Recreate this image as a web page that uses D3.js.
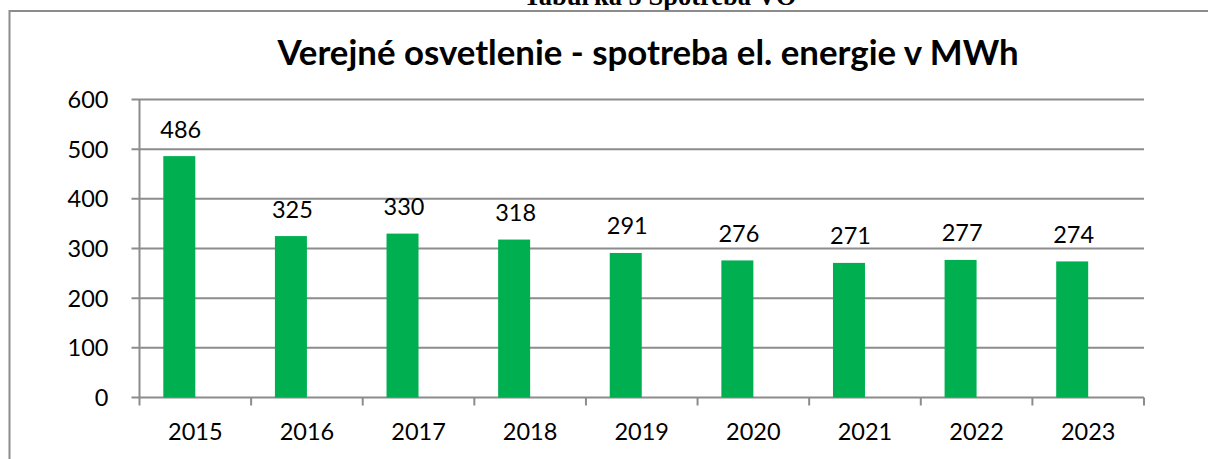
<!DOCTYPE html>
<html>
<head>
<meta charset="utf-8">
<script src="https://cdn.jsdelivr.net/npm/d3@7"></script>
<style>
  html, body { margin: 0; padding: 0; background: #fff; overflow: hidden; }
  svg { display: block; }
</style>
</head>
<body>
<div id="chart"></div>
<script>
// Data
const years = ["2015", "2016", "2017", "2018", "2019", "2020", "2021", "2022", "2023"];
const consumption = [486, 325, 330, 318, 291, 276, 271, 277, 274];
const yTicks = [0, 100, 200, 300, 400, 500, 600];

const caption = "Tabuľka 5 Spotreba VO";
const title = "Verejné osvetlenie - spotreba el. energie v MWh";

const W = 1208, H = 459;
const margin = { top: 99.5, right: 64, bottom: 61.5, left: 139.5 },
  width = W - margin.left - margin.right,
  height = H - margin.top - margin.bottom;

const gridColor = "#8c8c8c";
const barColor = "#00b050";
const font = "Lato, 'Open Sans', sans-serif";
const labelSize = 23.5;

const svg = d3.select("#chart")
  .append("svg")
  .attr("width", W)
  .attr("height", H);

// Caption above the chart frame (cut off at the top, as in the source)
svg.append("text")
  .attr("x", 660)
  .attr("y", 5)
  .attr("text-anchor", "middle")
  .attr("font-family", "'Liberation Serif', 'Times New Roman', serif")
  .attr("font-weight", "bold")
  .attr("font-size", 26.5)
  .text(caption);

// Chart frame
svg.append("rect")
  .attr("x", 9.5)
  .attr("y", 11)
  .attr("width", W)
  .attr("height", H)
  .attr("fill", "none")
  .attr("stroke", gridColor)
  .attr("stroke-width", 2);

// Title
svg.append("text")
  .attr("x", 648)
  .attr("y", 65)
  .attr("text-anchor", "middle")
  .attr("font-family", font)
  .attr("font-weight", "bold")
  .attr("font-size", 34.8)
  .text(title);

const g = svg.append("g")
  .attr("transform", `translate(${margin.left},${margin.top})`);

// Scales
const x = d3.scaleBand()
  .domain(years)
  .range([0, width]);

const y = d3.scaleLinear()
  .domain([0, 600])
  .range([height, 0]);

// Excel cluster: bar takes the left half of a 64px group centred in the category
const groupWidth = 64;
const barWidth = groupWidth / 2;

// Horizontal gridlines
g.selectAll(".grid")
  .data(yTicks)
  .enter()
  .append("line")
  .attr("x1", -8)
  .attr("x2", width)
  .attr("y1", d => y(d))
  .attr("y2", d => y(d))
  .attr("stroke", gridColor)
  .attr("stroke-width", 2);

// Y axis line
g.append("line")
  .attr("x1", 0).attr("x2", 0)
  .attr("y1", 0).attr("y2", height)
  .attr("stroke", gridColor)
  .attr("stroke-width", 2);

// Y tick labels
g.selectAll(".ylab")
  .data(yTicks)
  .enter()
  .append("text")
  .attr("x", -31)
  .attr("y", d => y(d))
  .attr("dy", "0.36em")
  .attr("text-anchor", "end")
  .attr("font-family", font)
  .attr("font-size", labelSize)
  .text(d => d);

// X tick marks between categories
const xTickPos = years.map(d => x(d)).concat([width]);
g.selectAll(".xtick")
  .data(xTickPos)
  .enter()
  .append("line")
  .attr("x1", d => d)
  .attr("x2", d => d)
  .attr("y1", height)
  .attr("y2", height + 8)
  .attr("stroke", gridColor)
  .attr("stroke-width", 2);

// Bars
g.selectAll(".bar")
  .data(consumption)
  .enter()
  .append("rect")
  .attr("class", "bar")
  .attr("x", (d, i) => x(years[i]) + (x.bandwidth() - groupWidth) / 2)
  .attr("y", d => y(d))
  .attr("width", barWidth)
  .attr("height", d => height - y(d))
  .attr("fill", barColor);

// Value labels above bars
g.selectAll(".val")
  .data(consumption)
  .enter()
  .append("text")
  .attr("x", (d, i) => x(years[i]) + (x.bandwidth() - groupWidth) / 2 + barWidth / 2 + 1.5)
  .attr("y", d => y(d) - 18.5)
  .attr("text-anchor", "middle")
  .attr("font-family", font)
  .attr("font-size", labelSize)
  .text(d => d);

// X category labels
g.selectAll(".xlab")
  .data(years)
  .enter()
  .append("text")
  .attr("x", d => x(d) + x.bandwidth() / 2)
  .attr("y", height + 42.5)
  .attr("text-anchor", "middle")
  .attr("font-family", font)
  .attr("font-size", labelSize)
  .text(d => d);
</script>
</body>
</html>
